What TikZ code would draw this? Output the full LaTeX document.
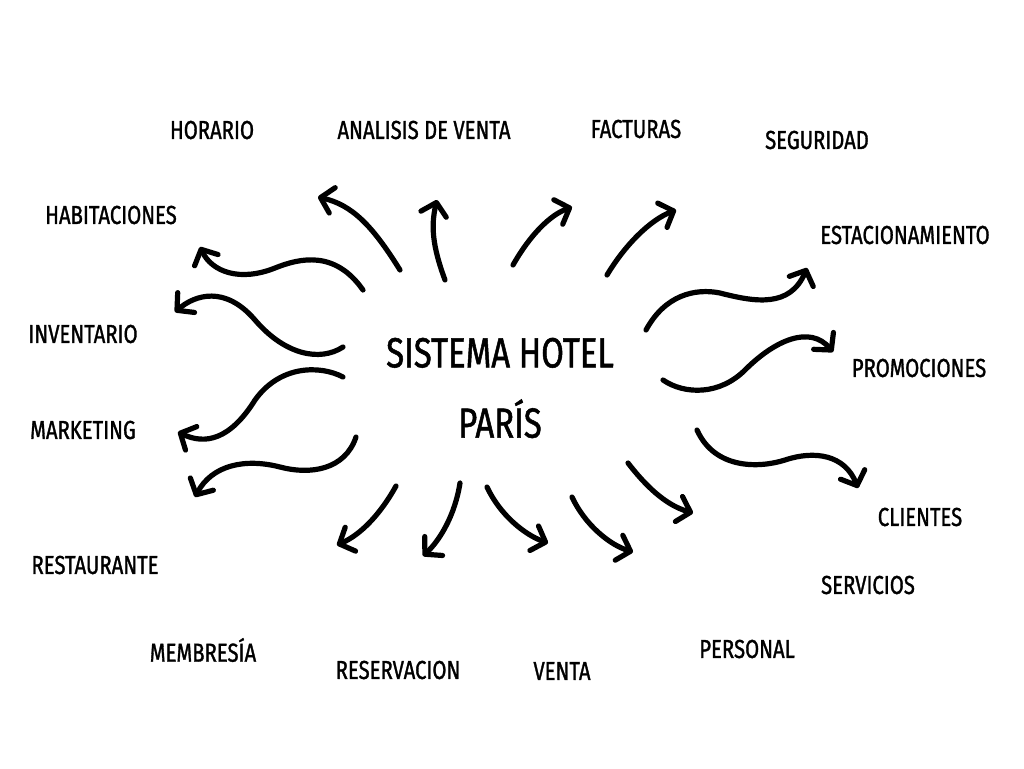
\documentclass[tikz,border=0pt]{standalone}
\usepackage{fontspec}
\setmainfont{Fira Sans}[FakeStretch=0.78, FakeBold=1.2]
\usetikzlibrary{arrows.meta}
\tikzset{
	lbl/.style={inner sep=0pt, font=\fontsize{18.5}{20}\selectfont},
	hub/.style={inner sep=0pt, align=center, font=\fontsize{30}{50}\selectfont},
	flow/.style={line width=1.3mm, line cap=round, -{Straight Barb[length=3mm, width=6.5mm, line cap=round, line join=round]}}
}
\begin{document}
\begin{tikzpicture}[x=0.25mm, y=-0.25mm]
	\useasboundingbox (0,0) rectangle (1024,768);
	% centre
	\node (S) at (500,388)	[hub]	{SISTEMA HOTEL\\PARÍS};
	% labels
	\node (horario) at (212,130)	[lbl]	{HORARIO};
	\node (analisis) at (424,130)	[lbl]	{ANALISIS DE VENTA};
	\node (facturas) at (636,129)	[lbl]	{FACTURAS};
	\node (seguridad) at (817,140)	[lbl]	{SEGURIDAD};
	\node (habitaciones) at (111,215)	[lbl]	{HABITACIONES};
	\node (estacionamiento) at (905,235)	[lbl]	{ESTACIONAMIENTO};
	\node (inventario) at (83,334)	[lbl]	{INVENTARIO};
	\node (promociones) at (919,368)	[lbl]	{PROMOCIONES};
	\node (marketing) at (83,430)	[lbl]	{MARKETING};
	\node (clientes) at (920,517)	[lbl]	{CLIENTES};
	\node (restaurante) at (95,565)	[lbl]	{RESTAURANTE};
	\node (servicios) at (868,585)	[lbl]	{SERVICIOS};
	\node (membresia) at (203,650)	[lbl]	{MEMBRESÍA};
	\node (reservacion) at (398,670)	[lbl]	{RESERVACION};
	\node (venta) at (562,671)	[lbl]	{VENTA};
	\node (personal) at (747,649)	[lbl]	{PERSONAL};
	% arrow ends
	\coordinate (a1) at (318,197);	\coordinate (a2) at (437,200);
	\coordinate (a3) at (572,207);	\coordinate (a4) at (676,210);
	\coordinate (a5) at (200,247);	\coordinate (a6) at (175,312);
	\coordinate (a7) at (178,432);	\coordinate (a8) at (195,497);
	\coordinate (a9) at (337,545);	\coordinate (a10) at (423,556);
	\coordinate (a11) at (548,543);	\coordinate (a12) at (633,552);
	\coordinate (a13) at (693,513);	\coordinate (a14) at (807,268);
	\coordinate (a15) at (833,352);	\coordinate (a16) at (858,488);
	% arrows
	\draw[flow] (400,270) .. controls (372,225) and (352,205) .. (a1);
	\draw[flow] (445,280) .. controls (432,245) and (431,225) .. (a2);
	\draw[flow] (513,265) .. controls (530,235) and (550,215) .. (a3);
	\draw[flow] (607,275) .. controls (625,245) and (650,220) .. (a4);
	\draw[flow] (363,290) .. controls (335,250) and (300,258) .. (275,268) .. controls (240,282) and (212,272) .. (a5);
	\draw[flow] (343,347) .. controls (320,362) and (285,355) .. (255,320) .. controls (225,285) and (195,295) .. (a6);
	\draw[flow] (343,377) .. controls (320,365) and (280,365) .. (255,400) .. controls (230,440) and (205,445) .. (a7);
	\draw[flow] (356,437) .. controls (345,470) and (310,475) .. (280,467) .. controls (245,458) and (212,465) .. (a8);
	\draw[flow] (396,486) .. controls (380,515) and (360,535) .. (a9);
	\draw[flow] (460,483) .. controls (455,515) and (440,540) .. (a10);
	\draw[flow] (487,487) .. controls (500,515) and (525,535) .. (a11);
	\draw[flow] (572,497) .. controls (585,525) and (610,545) .. (a12);
	\draw[flow] (628,463) .. controls (645,485) and (665,505) .. (a13);
	\draw[flow] (646,330) .. controls (665,295) and (695,288) .. (720,293) .. controls (755,302) and (790,308) .. (a14);
	\draw[flow] (663,380) .. controls (685,395) and (720,395) .. (745,370) .. controls (775,340) and (810,325) .. (a15);
	\draw[flow] (697,430) .. controls (715,470) and (760,468) .. (785,460) .. controls (815,450) and (845,455) .. (a16);
\end{tikzpicture}
\end{document}
